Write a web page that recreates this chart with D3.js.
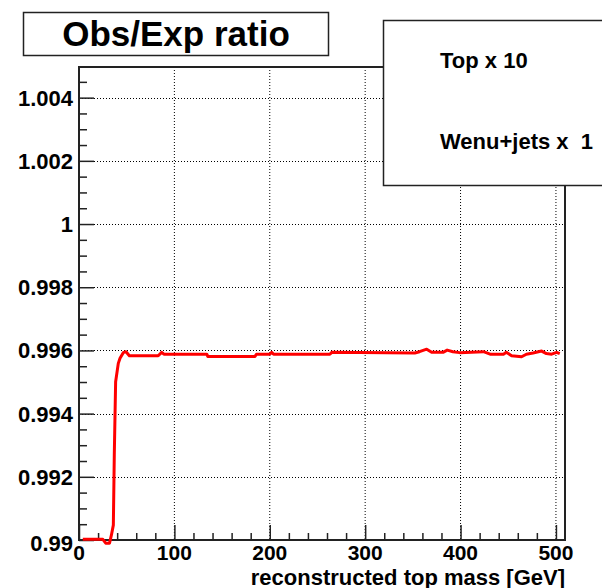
<!DOCTYPE html>
<html>
<head>
<meta charset="utf-8">
<script src="https://cdn.jsdelivr.net/npm/d3@7"></script>
<style>
  body { margin: 0; background: #fff; }
  text { font-family: "Liberation Sans", Arial, sans-serif; font-weight: bold; fill: #000; }
</style>
</head>
<body>
<script>
var width = 602;
var height = 588;

// frame of the plot area
var margin = { top: 67, left: 79, right: 37, bottom: 48 };

// reconstructed top mass [GeV] and the obs/exp ratio
var mass = [4, 25, 28, 32, 34, 36, 37, 38.4, 41.2, 43, 46.4, 49.3, 52.8, 83, 86.7, 89,
  134, 135, 184.5, 186, 200, 202, 204, 263, 265, 352, 357, 364.5, 369.7, 381.6, 386,
  392, 399, 424, 431, 445, 448, 453.5, 464, 469, 476, 485, 490, 495.5, 500.7, 504];
var ratio = [0.99002, 0.99002, 0.98990, 0.98990, 0.99016, 0.99047, 0.99269, 0.99501,
  0.99559, 0.99575, 0.99593, 0.99596, 0.99583, 0.99583, 0.99594, 0.99588, 0.99588,
  0.99581, 0.99581, 0.99588, 0.99588, 0.99594, 0.99588, 0.99588, 0.99594, 0.99592,
  0.99596, 0.99604, 0.99594, 0.99594, 0.99601, 0.99596, 0.99593, 0.99596, 0.99588,
  0.99588, 0.99594, 0.99583, 0.99580, 0.99588, 0.99592, 0.99598, 0.99590, 0.99588,
  0.99594, 0.99590];

var xTicks = [0, 100, 200, 300, 400, 500];
var yTicks = [0.990, 0.992, 0.994, 0.996, 0.998, 1.000, 1.002, 1.004];
var legendLabels = ["Top x 10", "Wenu+jets x  1"];
var title = "Obs/Exp ratio";
var xTitle = "reconstructed top mass [GeV]";

var svg = d3.select("body")
  .append("svg")
  .attr("width", width)
  .attr("height", height);

var xScale = d3.scaleLinear()
  .domain([0, 509.5])
  .range([margin.left, width - margin.right]);

var yScale = d3.scaleLinear()
  .domain([0.99, 1.00497])
  .range([height - margin.bottom, margin.top]);

// grid
svg.append("g")
  .selectAll("line.vgrid")
  .data(xTicks.slice(1))
  .enter()
  .append("line")
    .attr("x1", function(d) { return xScale(d); })
    .attr("x2", function(d) { return xScale(d); })
    .attr("y1", margin.top)
    .attr("y2", height - margin.bottom)
    .attr("stroke", "#000")
    .attr("stroke-width", 1)
    .attr("stroke-dasharray", "1,2");

svg.append("g")
  .selectAll("line.hgrid")
  .data(yTicks.slice(1))
  .enter()
  .append("line")
    .attr("x1", margin.left)
    .attr("x2", width - margin.right)
    .attr("y1", function(d) { return Math.round(yScale(d)) + 0.5; })
    .attr("y2", function(d) { return Math.round(yScale(d)) + 0.5; })
    .attr("stroke", "#000")
    .attr("stroke-width", 1)
    .attr("stroke-dasharray", "1,2");

// axes, ticks point into the frame
var xAxis = svg.append("g")
  .attr("transform", "translate(0," + (height - margin.bottom) + ")")
  .call(d3.axisTop(xScale).tickValues(d3.range(0, 501, 20)).tickSize(7).tickFormat(""));
xAxis.selectAll(".tick line")
  .attr("y2", function(d) { return d % 100 === 0 ? -15 : -7; })
  .attr("stroke", "#222").attr("stroke-width", 1.5);
xAxis.select(".domain").remove();

var yAxis = svg.append("g")
  .attr("transform", "translate(" + margin.left + ",0)")
  .call(d3.axisRight(yScale).tickValues(d3.range(0, 30).map(function(i) { return 0.99 + i * 0.0005; })).tickSize(8).tickFormat(""));
yAxis.selectAll(".tick line")
  .attr("x2", function(d, i) { return i % 4 === 0 ? 15 : 8; })
  .attr("stroke", "#222").attr("stroke-width", 1.5);
yAxis.select(".domain").remove();

// tick labels
svg.selectAll("text.xlab")
  .data(xTicks)
  .enter()
  .append("text")
    .attr("x", function(d) { return xScale(d); })
    .attr("y", 560)
    .attr("text-anchor", "middle")
    .attr("font-size", 21)
    .text(function(d) { return d; });

svg.selectAll("text.ylab")
  .data(yTicks)
  .enter()
  .append("text")
    .attr("x", margin.left - 6)
    .attr("y", function(d, i) { return yScale(d) + (i === 0 ? 11 : 8); })
    .attr("text-anchor", "end")
    .attr("font-size", 22)
    .text(function(d) { return d === 1 ? "1" : d === 0.99 ? "0.99" : d3.format(".3f")(d); });

// frame
svg.append("rect")
  .attr("x", margin.left)
  .attr("y", margin.top)
  .attr("width", width - margin.left - margin.right)
  .attr("height", height - margin.top - margin.bottom)
  .attr("fill", "none")
  .attr("stroke", "#222")
  .attr("stroke-width", 2);

// ratio curve
var line = d3.line()
  .x(function(d, i) { return xScale(mass[i]); })
  .y(function(d) { return yScale(d); });

svg.append("path")
  .datum(ratio)
  .attr("d", line)
  .attr("fill", "none")
  .attr("stroke", "#ff0000")
  .attr("stroke-width", 3)
  .attr("stroke-linejoin", "round");

// x title
svg.append("text")
  .attr("x", width - margin.right)
  .attr("y", 584.5)
  .attr("text-anchor", "end")
  .attr("font-size", 22)
  .text(xTitle);

// title box
svg.append("rect")
  .attr("x", 23.5).attr("y", 12.5)
  .attr("width", 305).attr("height", 43)
  .attr("fill", "#fff")
  .attr("stroke", "#222")
  .attr("stroke-width", 1.5);
svg.append("text")
  .attr("x", 176)
  .attr("y", 46)
  .attr("text-anchor", "middle")
  .attr("font-size", 35)
  .text(title);

// legend box
svg.append("rect")
  .attr("x", 383.5).attr("y", 20.5)
  .attr("width", 240).attr("height", 165)
  .attr("fill", "#fff")
  .attr("stroke", "#222")
  .attr("stroke-width", 1.5);
svg.selectAll("text.leg")
  .data(legendLabels)
  .enter()
  .append("text")
    .attr("x", 440)
    .attr("y", function(d, i) { return 68 + i * 81; })
    .attr("font-size", 22)
    .style("white-space", "pre")
    .text(function(d) { return d; });
</script>
</body>
</html>
